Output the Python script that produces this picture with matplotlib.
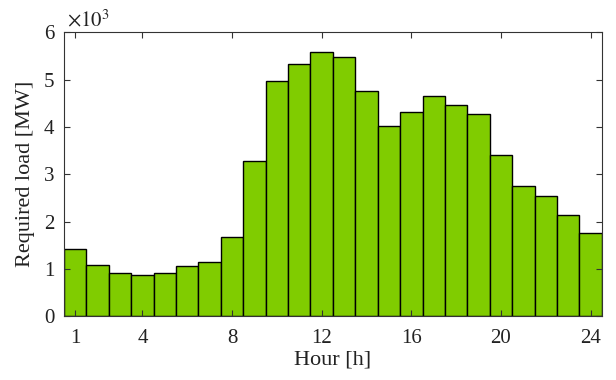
import matplotlib
matplotlib.use("Agg")
import matplotlib.pyplot as plt
from matplotlib.ticker import FuncFormatter

hours = list(range(1, 25))
load_mw = [1420, 1080, 910, 870, 910, 1060, 1150, 1680, 3280, 4980, 5340, 5590,
           5480, 4760, 4030, 4310, 4660, 4470, 4270, 3400, 2760, 2530, 2140, 1750]
xticks = [1, 4, 8, 12, 16, 20, 24]
yticks = [0, 1000, 2000, 3000, 4000, 5000, 6000]

plt.rcParams['font.family'] = ['Liberation Serif', 'DejaVu Serif']
plt.rcParams['mathtext.fontset'] = 'stix'

fig = plt.figure(figsize=(6.16, 3.8), dpi=100)
ax = fig.add_axes([0.1039, 0.168, 0.873, 0.747])
ax.bar(hours, load_mw, width=1.0, color=(0.5, 0.8, 0.0), edgecolor='black', linewidth=1.0)
ax.set_xlim(0.5, 24.5)
ax.set_ylim(0, 6000)
ax.set_xticks(xticks)
ax.set_yticks(yticks)
ax.yaxis.set_major_formatter(FuncFormatter(lambda v, p: f"{v/1000:g}"))
ax.tick_params(direction='in', top=True, right=True, labelsize=15, length=4,
               color='#333333', labelcolor='#222222')
ax.tick_params(axis='x', pad=9)
ax.tick_params(axis='y', pad=7)
for s in ax.spines.values():
    s.set_color('#333333')
    s.set_linewidth(0.8)
ax.set_xlabel('Hour [h]', fontsize=16, labelpad=2, color='#222222')
ax.set_ylabel('Required load [MW]', fontsize=16, labelpad=6, color='#222222')
ax.text(0.005, 1.005, r'$\times10^{3}$', transform=ax.transAxes, fontsize=15,
        ha='left', va='bottom', color='#222222')
fig.savefig('out.png', dpi=100)
